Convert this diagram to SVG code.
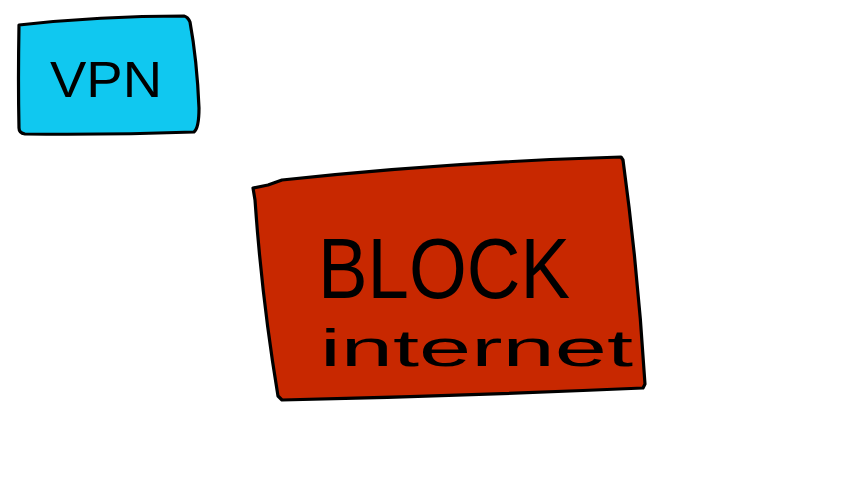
<svg xmlns="http://www.w3.org/2000/svg" width="852" height="480" viewBox="0 0 852 480">
<style>
.box{stroke:#000;stroke-width:3.2;stroke-linejoin:round;stroke-linecap:round}
.hand{font-family:"Liberation Sans",Arial,sans-serif;fill:#000}
</style>
<rect width="852" height="480" fill="#fff"/>
<g id="vpn">
<path class="box" fill="#10C8F0" d="M19,25 Q100,16 184,16 Q188,17 190,22 Q197,60 199,108 Q199,128 194,132 Q110,135 25,134 Q19,133 19,128 Q18,80 19,25 Z"/>
<text class="hand" x="50" y="97" font-size="50" textLength="112" lengthAdjust="spacingAndGlyphs">VPN</text>
</g>
<g id="block">
<path class="box" fill="#C82800" d="M253,188 L268,185 L282,180 Q450,162 621,157 L623,160 Q638,270 645,384 L643,388 Q460,396 282,400 L278,396 Q262,300 255,200 L253,188 Z"/>
<text class="hand" x="318" y="298" font-size="86" textLength="252" lengthAdjust="spacingAndGlyphs">BLOCK</text>
<text class="hand" x="320" y="366" font-size="52" textLength="313" lengthAdjust="spacingAndGlyphs">internet</text>
</g>
<g id="connectors"/>
</svg>
